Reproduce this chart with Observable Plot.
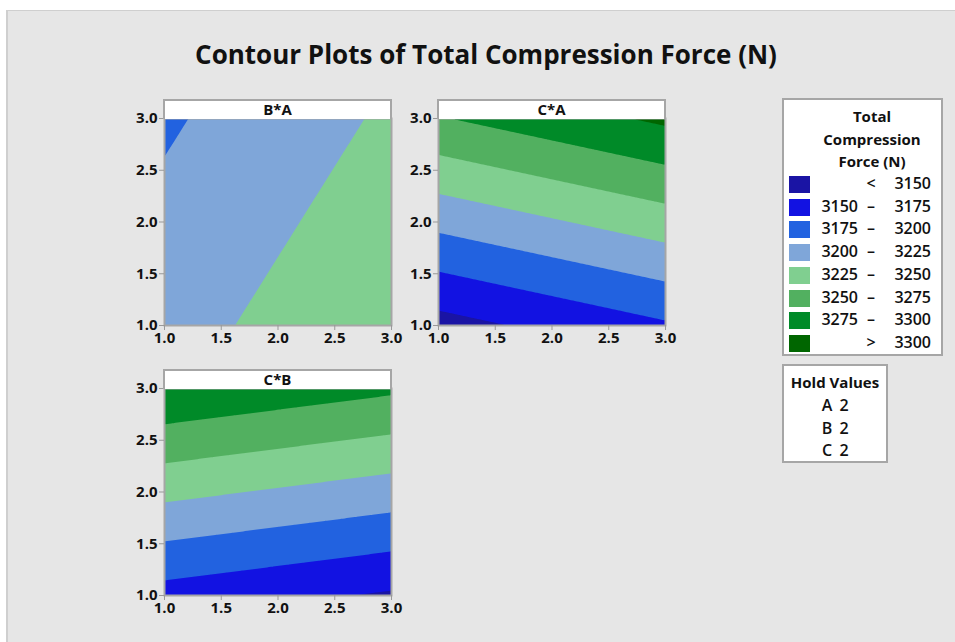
<!DOCTYPE html>
<html>
<head>
<meta charset="utf-8">
<script src="https://cdn.jsdelivr.net/npm/d3@7"></script>
<script src="https://cdn.jsdelivr.net/npm/@observablehq/plot@0.6"></script>
<style>
  body { margin: 0; background: #fff; font-family: "Open Sans", "Noto Sans", sans-serif; }
  #root { position: relative; width: 955px; height: 642px; overflow: hidden; }
  #bg { position: absolute; left: 6px; top: 10px; width: 949px; height: 632px; background: #e6e6e6;
        border-top: 1px solid #cfcfcf; border-left: 2px solid #cfcfcf; box-sizing: border-box; }
  .abs { position: absolute; }
  .title { left: 0px; width: 972px; top: 36px; text-align: center; font-size: 26px; font-weight: 700; color: #111; }
  .hdr { background: #fff; border: 2px solid #a6a6a6; border-bottom: none; box-sizing: border-box;
         text-align: center; font-size: 15px; font-weight: 700; color: #111; line-height: 17px; }
  .box { background: #fff; border: 2px solid #a6a6a6; box-sizing: border-box; color: #111; font-weight: 600; font-size: 15px; }
  .lt { text-align: center; font-size: 15px; font-weight: 700; line-height: 22.5px; }
  .sw { width: 21px; height: 17px; }
  .num { font-size: 16px; font-weight: 600; line-height: 19px; }
  svg.panel text { font-family: "Open Sans", sans-serif !important; font-size: 15px !important; font-weight: 700 !important; fill: #111; }
</style>
</head>
<body>
<div id="root">
  <div id="bg"></div>
  <div class="abs title">Contour Plots of Total Compression Force (N)</div>
</div>
<script>
// ---- data ----
const panelNames = ["B*A", "C*A", "C*B"];
const cornerX = [1, 3, 1, 3];
const cornerY = [1, 1, 3, 3];
const forceBA = [3215.0, 3247.2, 3196.6, 3228.8];
const forceCA = [3140.4, 3171.8, 3273.4, 3304.8];
const forceCB = [3165.4, 3146.8, 3297.9, 3279.3];
const axisTicks = [1.0, 1.5, 2.0, 2.5, 3.0];
const levelBreaks = [3150, 3175, 3200, 3225, 3250, 3275, 3300];
const levelColors = ["#1a14a4", "#1212e2", "#2262e0", "#7fa6d9", "#80cf90", "#52b060", "#008a28", "#006600"];
const legendLabels = [["", "<", "3150"], ["3150", "–", "3175"], ["3175", "–", "3200"], ["3200", "–", "3225"],
                      ["3225", "–", "3250"], ["3250", "–", "3275"], ["3275", "–", "3300"], ["", ">", "3300"]];
const holdNames = ["A", "B", "C"];
const holdValues = [2, 2, 2];

const panelForces = [forceBA, forceCA, forceCB];
const panelPos = [[120, 104], [394, 104], [120, 374]];
const root = document.getElementById("root");

panelNames.forEach((name, i) => {
  const data = cornerX.map((x, k) => ({x, y: cornerY[k], v: panelForces[i][k]}));
  const ml = 44, mt = 14, mr = 16, mb = 30, w = 227, h = 207;
  const svg = Plot.plot({
    width: ml + w + mr, height: mt + h + mb,
    marginLeft: ml, marginTop: mt, marginRight: mr, marginBottom: mb,
    className: "panel",
    style: {background: "transparent", overflow: "visible"},
    x: {domain: [1, 3], label: null},
    y: {domain: [1, 3], label: null},
    color: {type: "threshold", domain: levelBreaks, range: levelColors},
    marks: [
      Plot.contour(data, {x: "x", y: "y", value: "v", fill: "value", interpolate: "barycentric",
        thresholds: [3000, ...levelBreaks], stroke: "none"}),
      Plot.frame({stroke: "#a6a6a6", strokeWidth: 2}),
      Plot.axisX({ticks: axisTicks, tickFormat: d3.format(".1f"), tickSize: 5, tickPadding: 2, stroke: "#999", fill: "#111"}),
      Plot.axisY({ticks: axisTicks, tickFormat: d3.format(".1f"), tickSize: 5, tickPadding: 2, stroke: "#999", fill: "#111"})
    ]
  });
  svg.classList.add("panel");
  svg.style.position = "absolute";
  svg.style.left = panelPos[i][0] + "px";
  svg.style.top = panelPos[i][1] + "px";
  root.appendChild(svg);
  const hdr = document.createElement("div");
  hdr.className = "abs hdr";
  hdr.style.left = (panelPos[i][0] + ml - 1) + "px";
  hdr.style.top = (panelPos[i][1] + mt - 19) + "px";
  hdr.style.width = (w + 2) + "px";
  hdr.style.height = "20px";
  hdr.textContent = name;
  root.appendChild(hdr);
});

// legend box
const leg = document.createElement("div");
leg.className = "abs box";
Object.assign(leg.style, {left: "782px", top: "98px", width: "161px", height: "258px"});
leg.innerHTML = `<div class="abs lt" style="left:20px;width:136px;top:5px">Total<br>Compression<br>Force (N)</div>`;
levelColors.forEach((c, k) => {
  const cy = 85 + k * 22.7;
  const [a, dsh, b] = legendLabels[k];
  leg.innerHTML += `<div class="abs sw" style="left:5px;top:${cy - 9}px;background:${c}"></div>
    <div class="abs num" style="left:18px;width:56px;text-align:right;top:${cy - 11}px">${a}</div>
    <div class="abs num" style="left:78px;width:18px;text-align:center;top:${cy - 11}px">${dsh}</div>
    <div class="abs num" style="left:96px;width:51px;text-align:right;top:${cy - 11}px">${b}</div>`;
});
root.appendChild(leg);

// hold values box
const hold = document.createElement("div");
hold.className = "abs box";
Object.assign(hold.style, {left: "782px", top: "364px", width: "106px", height: "99px"});
hold.innerHTML = `<div class="abs lt" style="left:0;width:102px;top:5px">Hold Values</div>`;
holdNames.forEach((n, k) => {
  hold.innerHTML += `<div class="abs num" style="left:36px;width:14px;text-align:center;top:${30 + k * 22.5}px">${n}</div>
    <div class="abs num" style="left:54px;width:12px;text-align:center;top:${30 + k * 22.5}px">${holdValues[k]}</div>`;
});
root.appendChild(hold);
</script>
</body>
</html>
